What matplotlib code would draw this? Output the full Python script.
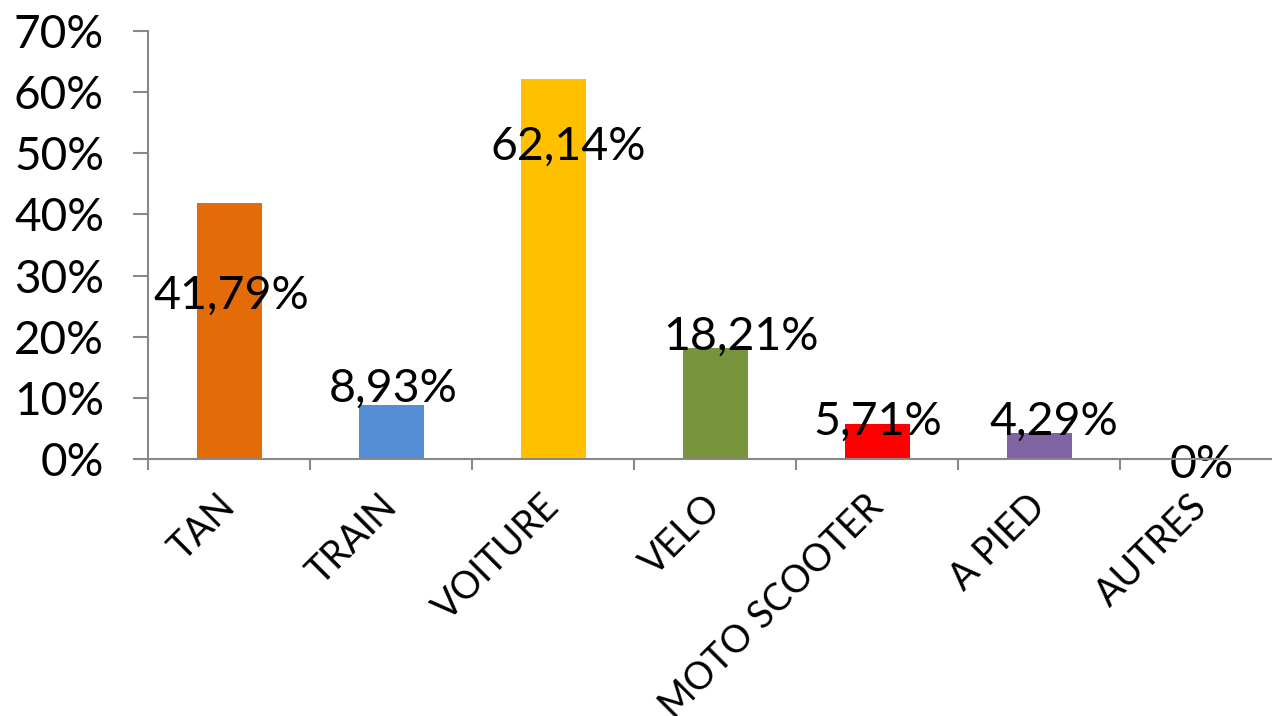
import matplotlib.pyplot as plt
from matplotlib.ticker import FixedLocator, FuncFormatter
import numpy as np

plt.rcParams['font.family'] = ['Lato', 'DejaVu Sans']

# data
modes = ["TAN", "TRAIN", "VOITURE", "VELO", "MOTO SCOOTER", "A PIED", "AUTRES"]
shares = [41.79, 8.93, 62.14, 18.21, 5.71, 4.29, 0.0]
colors = ["#E36C09", "#558ED5", "#FFC000", "#77933C", "#FF0000", "#8064A2", "#FFFFFF"]

# where the value labels sit (baseline, in %), and small x shifts as in the original
label_y = [24.6, 9.4, 48.9, 17.9, 4.1, 4.1, -3.05]
label_dx = [0.01, 0.01, 0.09, 0.16, 0.0, 0.09, 0.0]

axis_grey = "#888888"

fig = plt.figure(figsize=(12.72, 7.16), dpi=100)
ax = fig.add_axes([0.1167, 0.3585, 0.8915, 0.5986])

x = np.arange(len(modes))
ax.bar(x, shares, width=0.4, color=colors)

# value labels, French decimal comma
for i, v in enumerate(shares):
    txt = "0%" if v == 0 else f"{v:.2f}".replace(".", ",") + "%"
    ax.text(x[i] + label_dx[i], label_y[i], txt, ha="center", va="baseline",
            fontsize=33.5, color="black")

ax.set_xlim(-0.5, len(modes) - 0.5)
ax.set_ylim(0, 70)

# y axis
ax.set_yticks(np.arange(0, 71, 10))
ax.yaxis.set_major_formatter(FuncFormatter(lambda v, p: f"{v:.0f}%"))
ax.tick_params(axis="y", length=11, width=1.5, color=axis_grey, labelsize=33, pad=21)

# x axis: tick marks between categories, labels at the centres
ax.xaxis.set_major_locator(FixedLocator(np.arange(-0.5, len(modes), 1.0)))
ax.xaxis.set_major_formatter(FuncFormatter(lambda v, p: ""))
ax.xaxis.set_minor_locator(FixedLocator(x))
ax.set_xticklabels(modes, minor=True)
ax.tick_params(axis="x", which="major", length=8, width=1.5, color=axis_grey)
ax.tick_params(axis="x", which="minor", length=0, labelsize=27, pad=30)
for lab in ax.get_xticklabels(minor=True):
    lab.set_rotation(45)
    lab.set_ha("right")
    lab.set_va("center")
    lab.set_rotation_mode("anchor")

for side in ["top", "right"]:
    ax.spines[side].set_visible(False)
for side in ["left", "bottom"]:
    ax.spines[side].set_color(axis_grey)
    ax.spines[side].set_linewidth(1.5)
ax.spines["bottom"].set_zorder(3)

fig.savefig("out.png", dpi=100)
